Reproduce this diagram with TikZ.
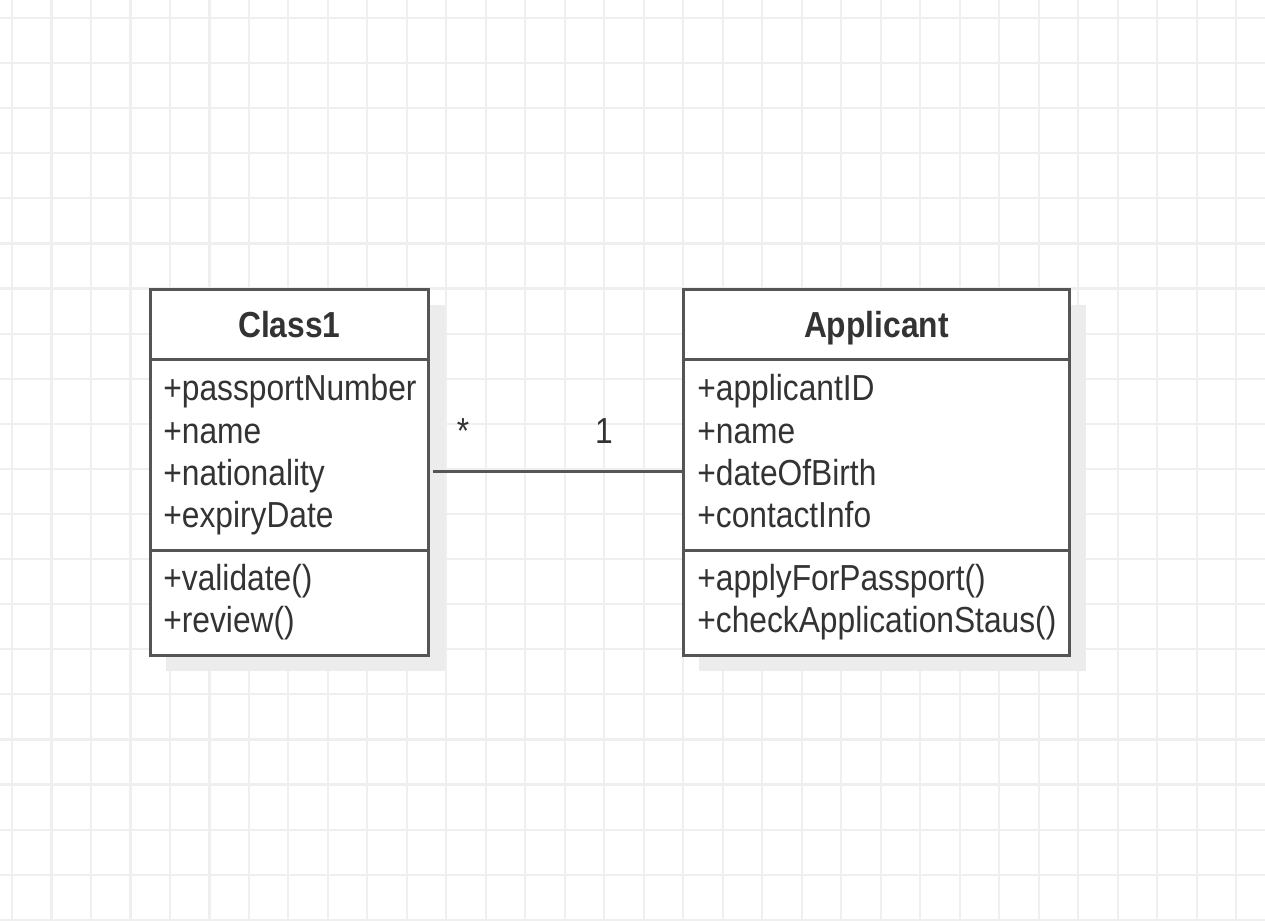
\documentclass[tikz,border=0pt]{standalone}
\usepackage{fontspec}
\setmainfont{Liberation Sans}[FakeStretch=0.877]
\usepackage{tikz}
\usepackage{xcolor}
\usetikzlibrary{positioning}

\definecolor{umlline}{HTML}{555555}
\definecolor{umltext}{HTML}{333333}
\definecolor{gridgray}{HTML}{EFEFEF}
\definecolor{shadegray}{HTML}{ECECEC}

\tikzset{
  compartment/.style={draw=umlline, line width=1.6pt, fill=white, anchor=north west, inner sep=0pt},
  classname/.style={compartment, font=\fontsize{20.6pt}{24pt}\selectfont\bfseries, text=umltext, text depth=0pt},
  member/.style={anchor=base west, inner sep=0pt, font=\fontsize{20.6pt}{24pt}\selectfont, text=umltext},
  mult/.style={anchor=base, inner sep=0pt, font=\fontsize{20.6pt}{24pt}\selectfont, text=umltext},
  assoc/.style={draw=umlline, line width=1.6pt}
}

\begin{document}
\begin{tikzpicture}[x=0.02cm, y=-0.02cm]
\useasboundingbox (0,0) rectangle (1265,920);
\fill[white] (0,0) rectangle (1265,920);

% background grid
\begin{scope}[shift={(12,18)}]
\draw[gridgray, line width=1.2pt, xstep=0.79cm, ystep=0.902cm] (-12,-18) grid (1253,902);
\end{scope}

% shadows
\fill[shadegray] (166,305) rectangle (445,671);
\fill[shadegray] (699,305) rectangle (1086,671);

% Class1
\node[classname, minimum width=5.56cm, minimum height=1.4cm] (c1head) at (149,288) {Class1};
\node[compartment, minimum width=5.56cm, minimum height=3.82cm] (c1attr) at (149,358) {};
\node[compartment, minimum width=5.56cm, minimum height=2.1cm] (c1ops) at (149,549) {};
\node[member] (c1a1) at (163,400) {+passportNumber};
\node[member] (c1a2) at (163,443) {+name};
\node[member] (c1a3) at (163,485) {+nationality};
\node[member] (c1a4) at (163,527) {+expiryDate};
\node[member] (c1o1) at (163,590) {+validate()};
\node[member] (c1o2) at (163,632) {+review()};

% Applicant
\node[classname, minimum width=7.72cm, minimum height=1.4cm] (aphead) at (682,288) {Applicant};
\node[compartment, minimum width=7.72cm, minimum height=3.82cm] (apattr) at (682,358) {};
\node[compartment, minimum width=7.72cm, minimum height=2.1cm] (apops) at (682,549) {};
\node[member] (apa1) at (697,400) {+applicantID};
\node[member] (apa2) at (697,443) {+name};
\node[member] (apa3) at (697,485) {+dateOfBirth};
\node[member] (apa4) at (697,527) {+contactInfo};
\node[member] (apo1) at (697,590) {+applyForPassport()};
\node[member] (apo2) at (697,632) {+checkApplicationStaus()};

% association
\draw[assoc] ([xshift=0.06cm, yshift=-0.33cm]c1attr.east) -- ([yshift=-0.33cm]apattr.west);
\node[mult] (multmany) at (463,443) {*};
\node[mult] (multone) at (604,443) {1};

\end{tikzpicture}
\end{document}
